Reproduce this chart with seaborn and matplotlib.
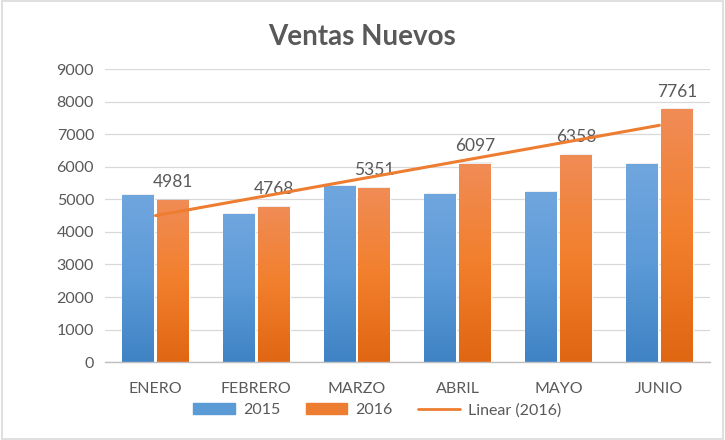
import numpy as np
import pandas as pd
import matplotlib
matplotlib.use("Agg")
import matplotlib.pyplot as plt
import seaborn as sns
from matplotlib.colors import LinearSegmentedColormap
from matplotlib.patches import Rectangle
from matplotlib.lines import Line2D

months = ["ENERO", "FEBRERO", "MARZO", "ABRIL", "MAYO", "JUNIO"]
ventas_2015 = [5130, 4545, 5405, 5160, 5220, 6080]
ventas_2016 = [4981, 4768, 5351, 6097, 6358, 7761]
years = ["2015", "2016"]

df = pd.DataFrame({
    "mes": months * 2,
    "anio": [years[0]] * len(months) + [years[1]] * len(months),
    "ventas": ventas_2015 + ventas_2016,
})

sns.set_theme(style="white")
plt.rcParams["font.family"] = ["Lato", "DejaVu Sans"]
gray = "#595959"

fig = plt.figure(figsize=(7.25, 4.4), dpi=100)
ax = fig.add_axes([0.145, 0.177, 0.834, 0.666])

palette = {"2015": "#5b9bd5", "2016": "#ed7d31"}
sns.barplot(data=df, x="mes", y="ventas", hue="anio", palette=palette,
            width=0.69, gap=0.08, ax=ax, legend=False, saturation=1)

ax.set_ylim(0, 9000)
ax.set_yticks(range(0, 9001, 1000))
ax.set_xlim(-0.5, len(months) - 0.5)

grads = {
    "2015": LinearSegmentedColormap.from_list("b", ["#3f83c4", "#5c9ad8", "#70a6de"]),
    "2016": LinearSegmentedColormap.from_list("o", ["#e06612", "#f27f2c", "#f08c56"]),
}
grad = np.linspace(0, 1, 256).reshape(-1, 1)
patches = list(ax.patches)
n = len(months)
for i, p in enumerate(patches):
    yr = years[0] if i < n else years[1]
    x0, y0 = p.get_x(), p.get_y()
    w, h = p.get_width(), p.get_height()
    sh = Rectangle((x0 + 0.01, y0), w, h + 40, facecolor="#000000", alpha=0.08,
                   edgecolor="none", zorder=1.5)
    ax.add_patch(sh)
    im = ax.imshow(grad, cmap=grads[yr], aspect="auto", origin="lower",
                   extent=[x0, x0 + w, y0, y0 + h], zorder=2)
    im.set_clip_path(p)
    p.set_zorder(2)
ax.set_xlim(-0.5, len(months) - 0.5)
ax.set_ylim(0, 9000)

for i, p in enumerate(patches[n:]):
    ax.annotate(f"{ventas_2016[i]}", (p.get_x() + p.get_width() / 2, p.get_height()),
                xytext=(0, 7), textcoords="offset points", ha="center", va="bottom",
                fontsize=12.5, color=gray)

xs = np.arange(n)
coef = np.polyfit(xs, ventas_2016, 1)
ax.plot(xs, np.polyval(coef, xs), color="#ed7d31", lw=2.2, zorder=4)

ax.grid(axis="y", color="#d9d9d9", lw=0.9)
ax.set_axisbelow(True)
for s in ["top", "right", "left"]:
    ax.spines[s].set_visible(False)
ax.spines["bottom"].set_color("#bfbfbf")
ax.spines["bottom"].set_linewidth(1)
ax.tick_params(axis="both", length=0, labelsize=11.5, colors=gray, pad=8)
ax.tick_params(axis="x", pad=14)
ax.set_xlabel("")
ax.set_ylabel("")

fig.text(0.5, 0.915, "Ventas Nuevos", ha="center", va="center", fontsize=20,
         fontweight="bold", color=gray)

handles = [Rectangle((0, 0), 1, 1, color="#5b9bd5"),
           Rectangle((0, 0), 1, 1, color="#ed7d31"),
           Line2D([0], [0], color="#ed7d31", lw=2)]
fig.legend(handles, ["2015", "2016", "Linear (2016)"], loc="center",
           bbox_to_anchor=(0.52, 0.068), ncol=3, frameon=False, fontsize=11.5,
           labelcolor=gray, handlelength=2.6, handleheight=0.7, columnspacing=1.6,
           handletextpad=0.5)

border = Rectangle((0.003, 0.003), 0.994, 0.994, transform=fig.transFigure,
                   fill=False, edgecolor="#d9d9d9", lw=1.2)
fig.patches.append(border)

fig.savefig("out.png", dpi=100, facecolor="white")
